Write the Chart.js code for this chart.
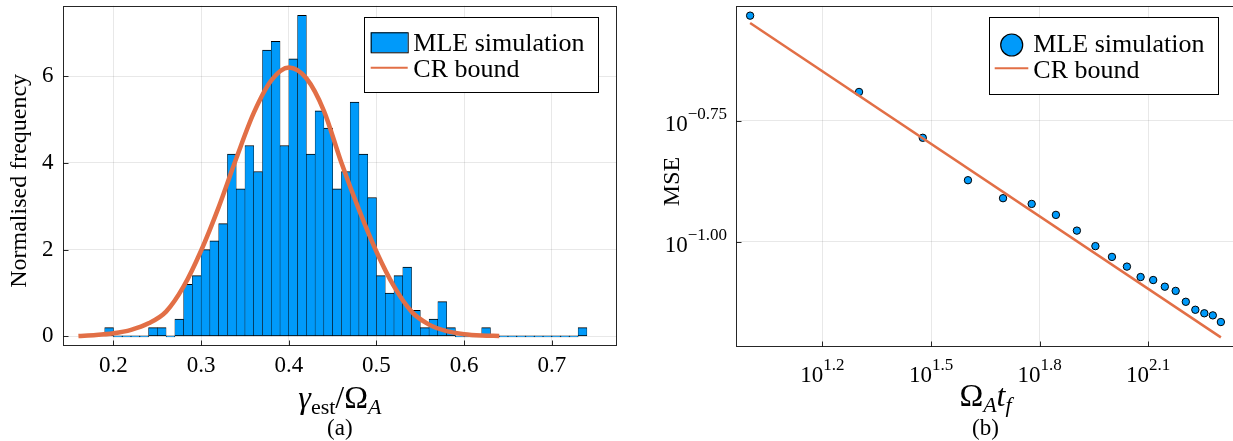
<!DOCTYPE html>
<html>
<head>
<meta charset="utf-8">
<script src="https://cdn.jsdelivr.net/npm/chart.js@4.4.1/dist/chart.umd.min.js"></script>
<style>
html, body { margin:0; padding:0; background:#fff; overflow:hidden; }
body { width:1233px; height:441px; position:relative; }
#histo { position:absolute; left:0; top:0; }
#mse { position:absolute; left:622px; top:0; }
</style>
</head>
<body>
<canvas id="histo" width="622" height="441"></canvas>
<canvas id="mse" width="620" height="441"></canvas>
<script>
// ---- (a) histogram of gamma_est / Omega_A, bins 0.01 wide (normalised) ----
const binWidth = 0.01;
const binLeft = [0.19, 0.20, 0.21, 0.22, 0.23, 0.24, 0.25, 0.26, 0.27, 0.28,
                 0.29, 0.30, 0.31, 0.32, 0.33, 0.34, 0.35, 0.36, 0.37, 0.38,
                 0.39, 0.40, 0.41, 0.42, 0.43, 0.44, 0.45, 0.46, 0.47, 0.48,
                 0.49, 0.50, 0.51, 0.52, 0.53, 0.54, 0.55, 0.56, 0.57, 0.58,
                 0.59, 0.60, 0.61, 0.62, 0.63, 0.64, 0.65, 0.66, 0.67, 0.68,
                 0.69, 0.70, 0.71, 0.72, 0.73];
const density = [0.2, 0, 0, 0, 0, 0.2, 0.2, 0, 0.4, 1.2,
                 1.4, 2.0, 2.2, 2.6, 4.2, 3.4, 4.4, 3.8, 6.6, 6.8,
                 4.4, 6.4, 7.4, 4.2, 5.2, 4.8, 3.4, 3.8, 5.4, 4.2,
                 3.2, 1.4, 1.0, 1.4, 1.6, 0.6, 0.2, 0.4, 0.8, 0.2,
                 0, 0, 0, 0.2, 0, 0, 0, 0, 0, 0,
                 0, 0, 0, 0, 0.2];
// CR bound curve
const crX = [0.16, 0.18, 0.20, 0.22, 0.24, 0.26, 0.28, 0.30, 0.32, 0.34, 0.36, 0.38, 0.40,
             0.42, 0.44, 0.46, 0.48, 0.50, 0.52, 0.54, 0.56, 0.58, 0.60, 0.62, 0.64];
const crY = [0.01, 0.03, 0.07, 0.15, 0.30, 0.57, 1.15, 1.98, 2.98, 4.10, 5.15, 5.90, 6.20,
             5.95, 5.20, 4.00, 2.92, 1.95, 1.15, 0.57, 0.27, 0.12, 0.05, 0.02, 0.01];
const xTicksA = [0.2, 0.3, 0.4, 0.5, 0.6, 0.7];
const yTicksA = [0, 2, 4, 6];

// ---- (b) MSE vs Omega_A t_f ----
const tf  = [10, 20, 30, 40, 50, 60, 70, 80, 90, 100,
             110, 120, 130, 140, 150, 160, 170, 180, 190, 200];
const mse = [0.2934, 0.2040, 0.1640, 0.1340, 0.1230, 0.1197, 0.1136, 0.1054, 0.0979, 0.0930,
             0.0888, 0.0845, 0.0833, 0.0807, 0.0791, 0.0751, 0.0723, 0.0711, 0.0704, 0.0682];
const boundX = [10, 200];
const boundY = [0.2834, 0.0634];
const xPowB = [1.2, 1.5, 1.8, 2.1];
const yPowB = [-1.00, -0.75];

const BLUE = '#009AFA';
const ORANGE = '#E26F46';
const GRID = 'rgba(0,0,0,0.09)';
const SERIF = '"Liberation Serif", "DejaVu Serif", serif';

Chart.defaults.font.family = SERIF;
Chart.defaults.color = '#000';

function logLimits(vals) {
  const l = vals.map(v => Math.log10(v));
  const lo = Math.min(...l), hi = Math.max(...l), pad = 0.03 * (hi - lo);
  return [10 ** (lo - pad), 10 ** (hi + pad)];
}

// fixed axis boxes so the plot areas land where the reference has them
function fixWidth(w) {
  return s => { s.width = w; s.paddingTop = 0; s.paddingBottom = 0; };
}
function fixHeight(h) {
  return s => { s.height = h; s.paddingLeft = 0; s.paddingRight = 0; };
}

function drawRuns(ctx, runs, cx, baseline) {
  let w = 0;
  runs.forEach(r => { ctx.font = r.font; r.w = ctx.measureText(r.t).width; w += r.w; });
  let x = cx - w / 2;
  ctx.textAlign = 'left';
  ctx.textBaseline = 'alphabetic';
  runs.forEach(r => { ctx.font = r.font; ctx.fillText(r.t, x, baseline + (r.dy || 0)); x += r.w; });
}

// box frame + small inner tick marks like Plots
const frame = {
  id: 'frame',
  afterDatasetsDraw(chart) {
    const {ctx, chartArea: a, scales} = chart;
    const L = Math.round(a.left) + 0.5, T = Math.round(a.top) + 0.5;
    const R = Math.round(a.right) - 0.5, B = Math.round(a.bottom) - 0.5;
    ctx.save();
    ctx.strokeStyle = 'rgba(0,0,0,0.85)';
    ctx.lineWidth = 1;
    ctx.beginPath();
    scales.x.ticks.forEach(t => {
      const p = Math.round(scales.x.getPixelForValue(t.value)) + 0.5;
      ctx.moveTo(p, B); ctx.lineTo(p, B - 5);
    });
    scales.y.ticks.forEach(t => {
      const p = Math.round(scales.y.getPixelForValue(t.value)) + 0.5;
      ctx.moveTo(L, p); ctx.lineTo(L + 5, p);
    });
    ctx.stroke();
    ctx.strokeRect(L, T, R - L, B - T);
    ctx.restore();
  }
};

// legend box drawn inside the plot
const boxLegend = {
  id: 'boxLegend',
  afterDraw(chart, args, o) {
    const ctx = chart.ctx;
    ctx.save();
    ctx.fillStyle = '#fff';
    ctx.fillRect(o.left, o.top, o.width, o.height);
    ctx.strokeStyle = '#000';
    ctx.lineWidth = 1;
    ctx.strokeRect(Math.round(o.left) + 0.5, Math.round(o.top) + 0.5, Math.round(o.width), Math.round(o.height));
    o.rows.forEach(r => {
      const ds = chart.data.datasets[r.ds];
      if (r.kind === 'rect') {
        ctx.fillStyle = ds.backgroundColor;
        ctx.fillRect(r.x0, r.y - 10, r.x1 - r.x0, 20);
        ctx.strokeStyle = '#000';
        ctx.strokeRect(r.x0 + 0.5, r.y - 10 + 0.5, r.x1 - r.x0, 20);
      } else if (r.kind === 'dot') {
        ctx.beginPath();
        ctx.arc((r.x0 + r.x1) / 2, r.y, 11, 0, Math.PI * 2);
        ctx.fillStyle = ds.backgroundColor;
        ctx.fill();
        ctx.strokeStyle = '#000';
        ctx.lineWidth = 1.2;
        ctx.stroke();
      } else {
        ctx.beginPath();
        ctx.moveTo(r.x0, r.y); ctx.lineTo(r.x1, r.y);
        ctx.strokeStyle = ds.borderColor;
        ctx.lineWidth = 2;
        ctx.stroke();
      }
      ctx.fillStyle = '#000';
      ctx.font = '26px ' + SERIF;
      ctx.textAlign = 'left';
      ctx.textBaseline = 'alphabetic';
      ctx.fillText(ds.label, o.textX, r.base);
    });
    ctx.restore();
  }
};

// axis guides and panel captions
const guides = {
  id: 'guides',
  afterDraw(chart, args, o) {
    const {ctx, chartArea: a} = chart;
    const cx = (a.left + a.right) / 2;
    ctx.save();
    ctx.fillStyle = '#000';
    ctx.translate(o.yLabelX, (a.top + a.bottom) / 2 + 5);
    ctx.rotate(-Math.PI / 2);
    ctx.font = '24px ' + SERIF;
    ctx.textAlign = 'center';
    ctx.textBaseline = 'middle';
    ctx.fillText(o.yLabel, 0, 0);
    ctx.restore();
    ctx.save();
    ctx.fillStyle = '#000';
    drawRuns(ctx, o.xRuns, cx, o.xBase);
    ctx.font = '23px ' + SERIF;
    ctx.textAlign = 'center';
    ctx.fillText(o.caption, cx, o.capBase);
    ctx.restore();
  }
};

// 10^x tick labels for the log panel
const powTicks = {
  id: 'powTicks',
  afterDraw(chart) {
    const {ctx, chartArea: a, scales} = chart;
    const base = '23px ' + SERIF, sup = '17px ' + SERIF;
    ctx.save();
    ctx.fillStyle = '#000';
    ctx.textAlign = 'left';
    ctx.textBaseline = 'alphabetic';
    const put = (exp, x, y, align) => {
      ctx.font = base; const wb = ctx.measureText('10').width;
      ctx.font = sup; const we = ctx.measureText(exp).width;
      const left = align === 'center' ? x - (wb + we) / 2 : x - wb - we;
      ctx.font = base; ctx.fillText('10', left, y);
      ctx.font = sup; ctx.fillText(exp, left + wb, y - 12);
    };
    xPowB.forEach(p => put(p.toFixed(1), scales.x.getPixelForValue(10 ** p), a.bottom + 35, 'center'));
    yPowB.forEach(p => put(p.toFixed(2).replace('-', '\u2212'), a.left - 9, scales.y.getPixelForValue(10 ** p) + 10, 'right'));
    ctx.restore();
  }
};

new Chart(document.getElementById('histo'), {
  type: 'bar',
  data: {
    datasets: [
      {
        type: 'line', label: 'CR bound',
        data: crX.map((x, i) => ({x, y: crY[i]})),
        borderColor: ORANGE, borderWidth: 4.5, pointRadius: 0,
        cubicInterpolationMode: 'monotone', order: 0
      },
      {
        label: 'MLE simulation',
        data: binLeft.map((l, i) => ({x: l + binWidth / 2, y: density[i]})),
        backgroundColor: BLUE, borderColor: '#000',
        borderWidth: {top: 1, left: 0.5, right: 0.5, bottom: 1}, borderSkipped: false,
        minBarLength: 1, barPercentage: 1, categoryPercentage: 1, order: 1
      }
    ]
  },
  options: {
    responsive: false, animation: false, events: [],
    layout: {padding: {left: 0, top: 5.7, right: 5.3, bottom: 0}},
    plugins: {
      legend: {display: false}, tooltip: {enabled: false},
      boxLegend: {
        left: 364.3, top: 17.3, width: 234.4, height: 74.7, textX: 413.3,
        rows: [
          {ds: 1, kind: 'rect', x0: 370.7, x1: 407.7, y: 42.3, base: 50.7},
          {ds: 0, kind: 'line', x0: 370.7, x1: 407.7, y: 67.7, base: 76.7}
        ]
      },
      guides: {
        yLabel: 'Normalised frequency', yLabelX: 20,
        xRuns: [
          {t: '\u03B3', font: 'italic 32px ' + SERIF},
          {t: 'est', font: '22px ' + SERIF, dy: 6},
          {t: '/', font: '32px ' + SERIF},
          {t: '\u03A9', font: '32px ' + SERIF},
          {t: 'A', font: 'italic 22px ' + SERIF, dy: 6}
        ],
        xBase: 408, caption: '(a)', capBase: 435
      }
    },
    scales: {
      x: {
        type: 'linear', min: 0.1424, max: 0.774, offset: false, bounds: 'data',
        grid: {offset: false, color: GRID, drawTicks: false},
        border: {display: false},
        afterBuildTicks: s => { s.ticks = xTicksA.map(v => ({value: v})); },
        afterFit: fixHeight(95),
        ticks: {padding: 6, font: {size: 23}, callback: (v, i) => xTicksA[i].toFixed(1)}
      },
      y: {
        min: -0.222, max: 7.622, bounds: 'data',
        grid: {color: GRID, drawTicks: false},
        border: {display: false},
        afterBuildTicks: s => { s.ticks = yTicksA.map(v => ({value: v})); },
        afterFit: fixWidth(63),
        ticks: {padding: 9.5, font: {size: 23}, callback: (v, i) => String(yTicksA[i])}
      }
    }
  },
  plugins: [frame, boxLegend, guides]
});

const xLimB = logLimits(tf.concat(boundX));
const yLimB = logLimits(mse.concat(boundY));

new Chart(document.getElementById('mse'), {
  type: 'scatter',
  data: {
    datasets: [
      {
        type: 'line', label: 'CR bound',
        data: boundX.map((x, i) => ({x, y: boundY[i]})),
        borderColor: ORANGE, borderWidth: 2.5, pointRadius: 0, showLine: true, order: 0
      },
      {
        label: 'MLE simulation',
        data: tf.map((x, i) => ({x, y: mse[i]})),
        backgroundColor: BLUE, borderColor: '#000', borderWidth: 1,
        pointRadius: 3.7, order: 1
      }
    ]
  },
  options: {
    responsive: false, animation: false, events: [],
    layout: {padding: {left: 0, top: 6, right: 7, bottom: 0}},
    plugins: {
      legend: {display: false}, tooltip: {enabled: false},
      boxLegend: {
        left: 367, top: 17, width: 229, height: 77, textX: 411.3,
        rows: [
          {ds: 1, kind: 'dot', x0: 378.7, x1: 400.7, y: 45, base: 52},
          {ds: 0, kind: 'line', x0: 372.7, x1: 406.3, y: 68.3, base: 77.5}
        ]
      },
      guides: {
        yLabel: 'MSE', yLabelX: 51,
        xRuns: [
          {t: '\u03A9', font: '32px ' + SERIF},
          {t: 'A', font: 'italic 22px ' + SERIF, dy: 6},
          {t: 't', font: 'italic 32px ' + SERIF},
          {t: 'f', font: 'italic 22px ' + SERIF, dy: 6}
        ],
        xBase: 406, caption: '(b)', capBase: 435
      }
    },
    scales: {
      x: {
        type: 'logarithmic', min: xLimB[0], max: xLimB[1],
        grid: {color: GRID, drawTicks: false},
        border: {display: false},
        afterBuildTicks: s => { s.ticks = xPowB.map(p => ({value: 10 ** p})); },
        afterFit: fixHeight(94),
        ticks: {display: false}
      },
      y: {
        type: 'logarithmic', min: yLimB[0], max: yLimB[1],
        grid: {color: GRID, drawTicks: false},
        border: {display: false},
        afterBuildTicks: s => { s.ticks = yPowB.map(p => ({value: 10 ** p})); },
        afterFit: fixWidth(114),
        ticks: {display: false}
      }
    }
  },
  plugins: [frame, boxLegend, guides, powTicks]
});
</script>
</body>
</html>
